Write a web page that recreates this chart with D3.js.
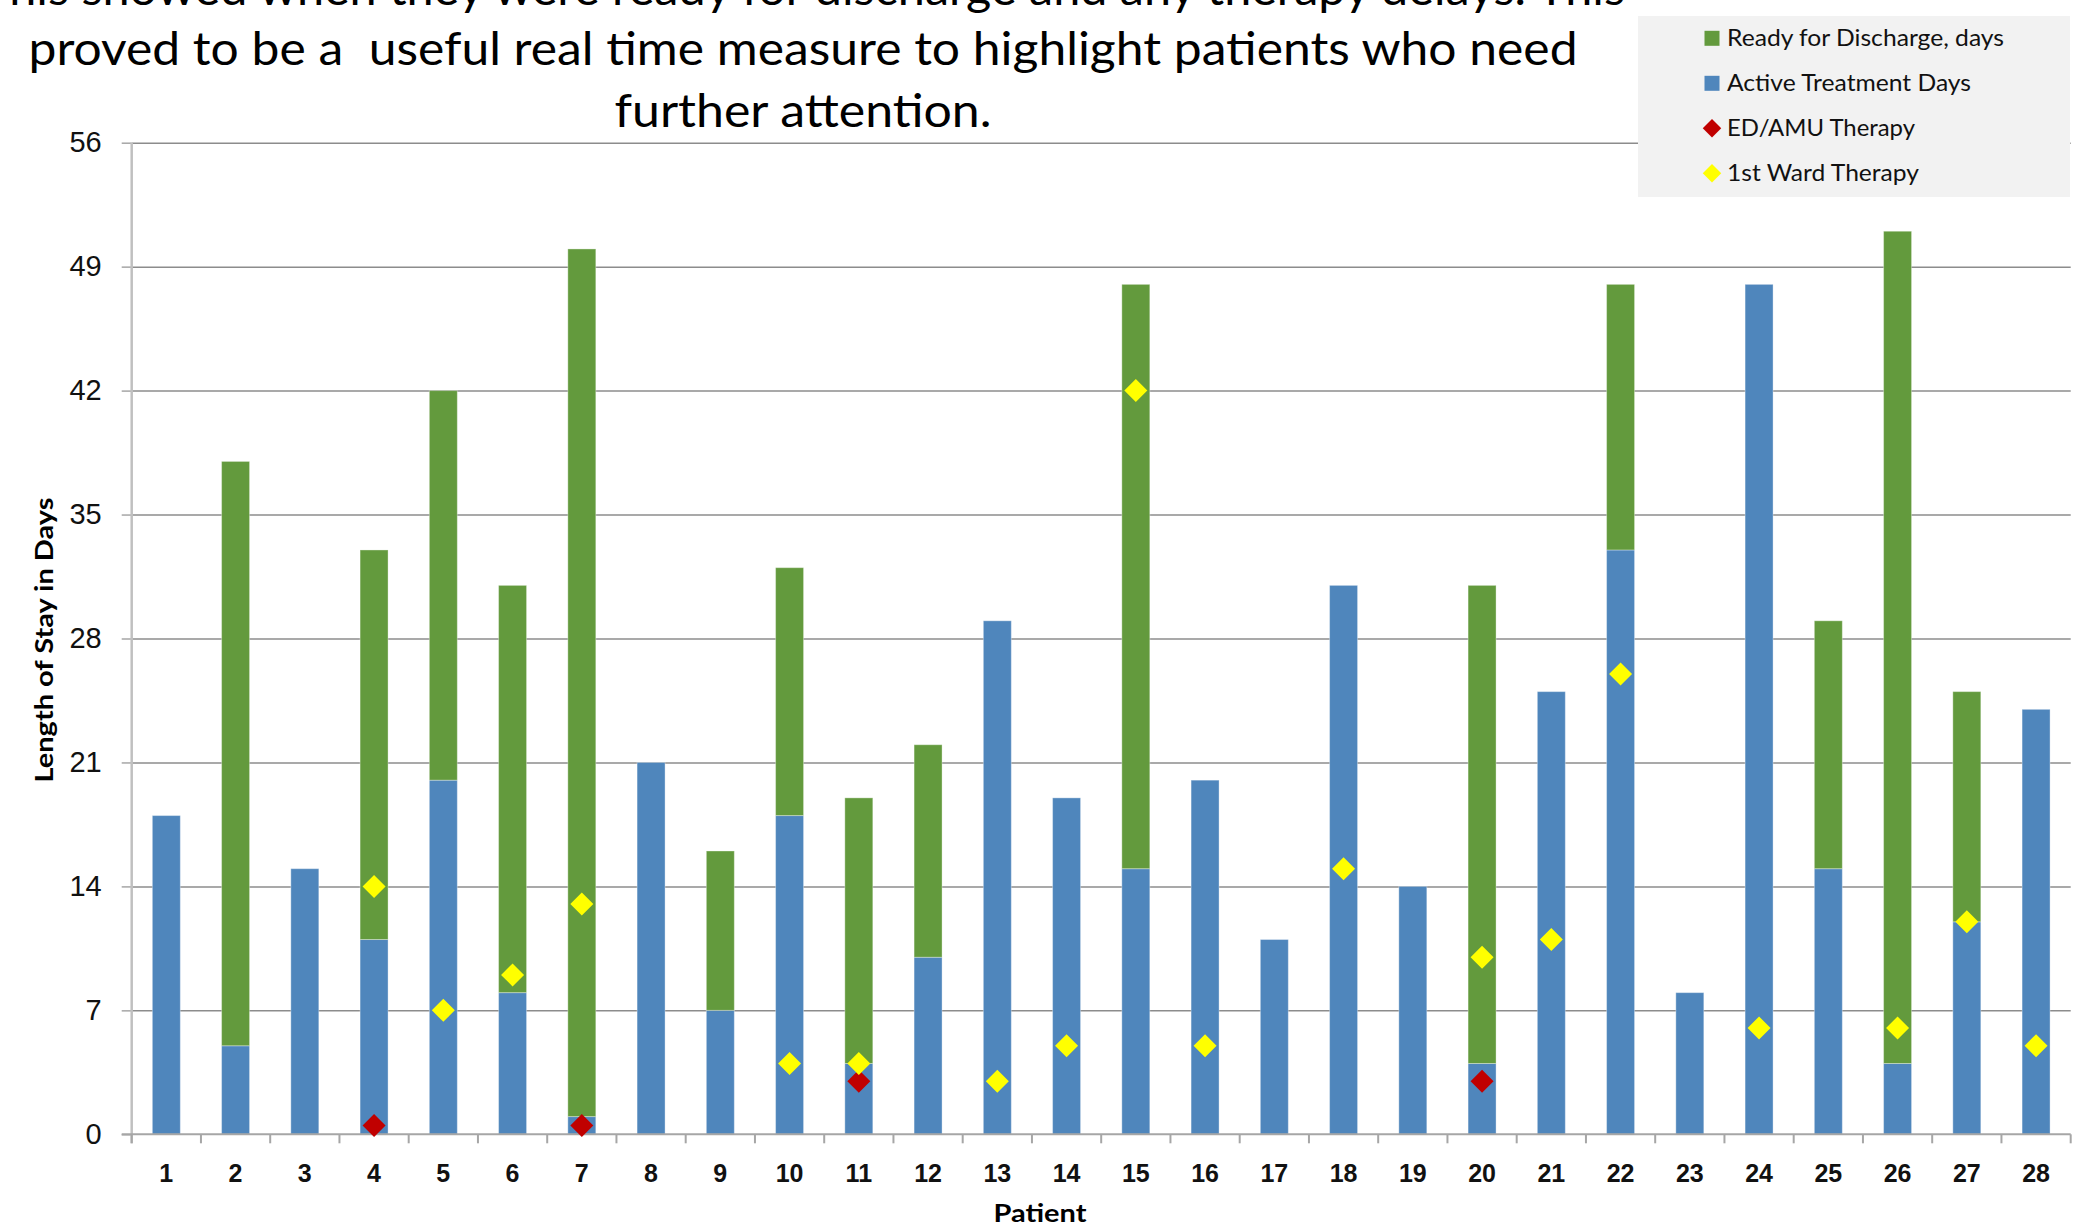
<!DOCTYPE html>
<html>
<head>
<meta charset="utf-8">
<script src="https://cdn.jsdelivr.net/npm/d3@7"></script>
<style>
  html, body { margin: 0; padding: 0; background: #fff; overflow: hidden; }
  svg { display: block; font-family: Lato, "Open Sans", sans-serif; }
</style>
</head>
<body>
<div id="chart"></div>
<script>
// values
const patients = d3.range(1, 29).map(String);
const activeDays = [18, 5, 15, 11, 20, 8, 1, 21, 7, 18, 4, 10, 29, 19, 15, 20, 11, 31, 14, 4, 25, 33, 8, 48, 15, 4, 12, 24];
const readyDays = [0, 33, 0, 22, 22, 23, 49, 0, 9, 14, 15, 12, 0, 0, 33, 0, 0, 0, 0, 27, 0, 15, 0, 0, 14, 47, 13, 0];
const edAmuTherapy = [null, null, null, 0.5, null, null, 0.5, null, null, null, 3, null, null, null, null, null, null, null, null, 3, null, null, null, null, null, null, null, null];
const wardTherapy = [null, null, null, 14, 7, 9, 13, null, null, 4, 4, null, 3, 5, 42, 5, null, 15, null, 10, 11, 26, null, 6, null, 6, 12, 5];
const yTicks = [0, 7, 14, 21, 28, 35, 42, 49, 56];
const titleLines = [
  'This showed when they were ready for discharge and any therapy delays. This',
  'proved to be a  useful real time measure to highlight patients who need',
  'further attention.'
];
const legendItems = [
  {label: 'Ready for Discharge, days', type: 'square', color: '#639A3D'},
  {label: 'Active Treatment Days', type: 'square', color: '#4F86BC'},
  {label: 'ED/AMU Therapy', type: 'diamond', color: '#C00000'},
  {label: '1st Ward Therapy', type: 'diamond', color: '#FFFF00'}
];

const W = 2097, H = 1222;
const plot = {left: 131.7, right: 2070.7, top: 142.7, bottom: 1134.3};

const svg = d3.select('#chart').append('svg')
  .attr('width', W)
  .attr('height', H);

const x = d3.scaleBand()
  .domain(patients)
  .range([plot.left, plot.right])
  .paddingInner(0.596)
  .paddingOuter(0.298);

const y = d3.scaleLinear()
  .domain([0, 56])
  .range([plot.bottom, plot.top]);

// gridlines
svg.append('g')
  .attr('transform', `translate(${plot.left},0)`)
  .call(d3.axisLeft(y).tickValues(yTicks.slice(1)).tickSize(-(plot.right - plot.left)).tickFormat(''))
  .call(g => g.select('.domain').remove())
  .call(g => g.selectAll('line').attr('stroke', '#8C8C8C').attr('stroke-width', 1.5));

// y axis
svg.append('g')
  .attr('transform', `translate(${plot.left},0)`)
  .call(d3.axisLeft(y).tickValues(yTicks).tickSize(10).tickPadding(20))
  .call(g => g.select('.domain').remove())
  .call(g => g.selectAll('line').attr('stroke', '#A6A6A6').attr('stroke-width', 1.5))
  .call(g => g.selectAll('text').attr('font-size', 29).attr('fill', '#111'));

svg.append('line')
  .attr('x1', plot.left).attr('x2', plot.left)
  .attr('y1', plot.top).attr('y2', plot.bottom + 9)
  .attr('stroke', '#C0C0C0').attr('stroke-width', 2.5);

// bars
const rows = patients.map((p, i) => ({p, active: activeDays[i], ready: readyDays[i]}));

svg.append('g').selectAll('rect')
  .data(rows)
  .join('rect')
  .attr('x', d => x(d.p))
  .attr('width', x.bandwidth())
  .attr('y', d => y(d.active))
  .attr('height', d => y(0) - y(d.active))
  .attr('fill', '#4F86BC')
  .attr('stroke', 'rgba(255,255,255,0.35)')
  .attr('stroke-width', 1);

svg.append('g').selectAll('rect')
  .data(rows.filter(d => d.ready > 0))
  .join('rect')
  .attr('x', d => x(d.p))
  .attr('width', x.bandwidth())
  .attr('y', d => y(d.active + d.ready))
  .attr('height', d => y(d.active) - y(d.active + d.ready))
  .attr('fill', '#639A3D')
  .attr('stroke', 'rgba(255,255,255,0.35)')
  .attr('stroke-width', 1);

// x axis: Excel puts the ticks between the categories
const step = x.step();
const bounds = patients.map(p => x(p) - step * x.paddingInner() / 2);
bounds[0] = plot.left;
bounds.push(plot.right);

svg.append('line')
  .attr('x1', plot.left - 10).attr('x2', plot.right)
  .attr('y1', y(0)).attr('y2', y(0))
  .attr('stroke', '#A6A6A6').attr('stroke-width', 2);

svg.append('g').selectAll('line')
  .data(bounds)
  .join('line')
  .attr('x1', d => d).attr('x2', d => d)
  .attr('y1', y(0)).attr('y2', y(0) + 9)
  .attr('stroke', '#A6A6A6').attr('stroke-width', 2);

svg.append('g')
  .attr('transform', `translate(0,${y(0)})`)
  .call(d3.axisBottom(x).tickSize(0).tickPadding(30))
  .call(g => g.select('.domain').remove())
  .call(g => g.selectAll('text').attr('font-size', 25).attr('font-weight', 'bold').attr('fill', '#111'));

// markers
const diamond = d3.symbol().type(d3.symbolSquare).size(265);
const markerRows = (vals) => patients.map((p, i) => ({p, v: vals[i]})).filter(d => d.v !== null);

svg.append('g').selectAll('path')
  .data(markerRows(edAmuTherapy))
  .join('path')
  .attr('d', diamond)
  .attr('transform', d => `translate(${x(d.p) + x.bandwidth() / 2},${y(d.v)}) rotate(45)`)
  .attr('fill', '#C00000');

svg.append('g').selectAll('path')
  .data(markerRows(wardTherapy))
  .join('path')
  .attr('d', diamond)
  .attr('transform', d => `translate(${x(d.p) + x.bandwidth() / 2},${y(d.v)}) rotate(45)`)
  .attr('fill', '#FFFF00');

// axis titles
svg.append('text')
  .attr('transform', 'translate(53,640) rotate(-90)')
  .attr('text-anchor', 'middle')
  .attr('font-size', 25)
  .attr('font-weight', 'bold')
  .attr('textLength', 285)
  .attr('lengthAdjust', 'spacingAndGlyphs')
  .text('Length of Stay in Days');

svg.append('text')
  .attr('x', 1040)
  .attr('y', 1222)
  .attr('text-anchor', 'middle')
  .attr('font-size', 25)
  .attr('font-weight', 'bold')
  .attr('textLength', 93)
  .attr('lengthAdjust', 'spacingAndGlyphs')
  .text('Patient');

// title (first line is cut by the top edge, as in the slide)
const titleY = [5, 65, 127];
const titleWidth = [1644, 1549, 377];
svg.append('g').selectAll('text')
  .data(titleLines)
  .join('text')
  .attr('x', 803)
  .attr('y', (d, i) => titleY[i])
  .attr('text-anchor', 'middle')
  .attr('font-size', 46)
  .attr('fill', '#000')
  .attr('textLength', (d, i) => titleWidth[i])
  .attr('lengthAdjust', 'spacingAndGlyphs')
  .style('white-space', 'pre')
  .text(d => d);

// legend
const legend = svg.append('g');
legend.append('rect')
  .attr('x', 1638).attr('y', 16)
  .attr('width', 432).attr('height', 181)
  .attr('fill', '#F2F2F2');

const legendRow = legend.selectAll('g')
  .data(legendItems)
  .join('g')
  .attr('transform', (d, i) => `translate(1712,${38.3 + i * 45})`);

legendRow.filter(d => d.type === 'square').append('rect')
  .attr('x', -7.5).attr('y', -7.5)
  .attr('width', 15).attr('height', 15)
  .attr('fill', d => d.color);

legendRow.filter(d => d.type === 'diamond').append('path')
  .attr('d', d3.symbol().type(d3.symbolSquare).size(170))
  .attr('transform', 'rotate(45)')
  .attr('fill', d => d.color);

const legendWidths = [277, 244, 188, 192];
legendRow.append('text')
  .attr('x', 15)
  .attr('dy', '0.35em')
  .attr('font-size', 23)
  .attr('fill', '#111')
  .attr('textLength', (d, i) => legendWidths[i])
  .attr('lengthAdjust', 'spacingAndGlyphs')
  .text(d => d.label);
</script>
</body>
</html>
